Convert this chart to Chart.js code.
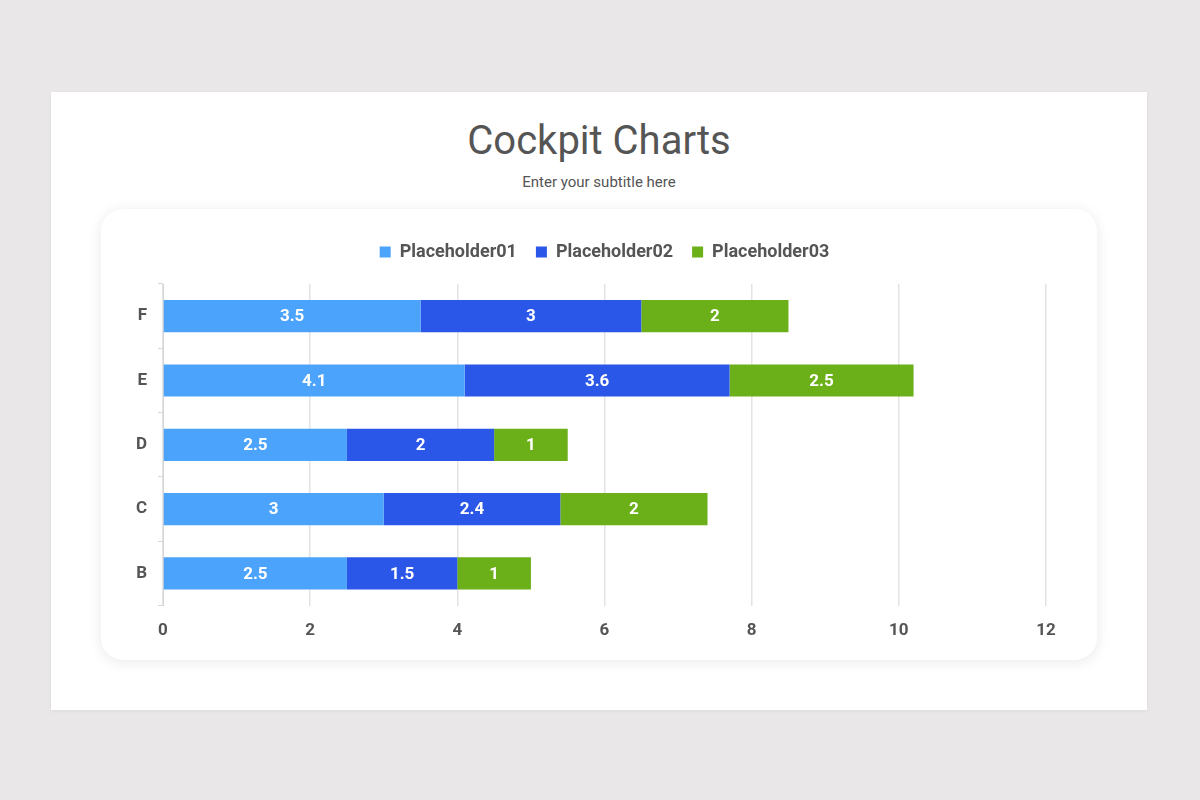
<!DOCTYPE html>
<html>
<head>
<meta charset="utf-8">
<style>
  html, body { margin: 0; padding: 0; }
  body { width: 1200px; height: 800px; background: #e9e7e8; position: relative; font-family: Roboto, sans-serif; overflow: hidden; }
  .slide { position: absolute; left: 51px; top: 92px; width: 1096px; height: 618px; background: #fff; box-shadow: 0 1px 4px rgba(0,0,0,0.06); }
  .slide h1 { position: absolute; left: 0; right: 0; top: 24px; margin: 0; text-align: center; font-weight: 400; font-size: 40px; color: #555; line-height: 50px; }
  .slide .sub { position: absolute; left: 0; right: 0; top: 80px; text-align: center; font-size: 15px; color: #555; line-height: 20px; }
  .card { position: absolute; left: 50px; top: 117px; width: 996px; height: 451px; background: #fff; border-radius: 22px; box-shadow: 0 2px 14px rgba(0,0,0,0.09); }
  canvas { position: absolute; left: 0; top: 0; }
</style>
</head>
<body>
<div class="slide">
  <h1>Cockpit Charts</h1>
  <div class="sub">Enter your subtitle here</div>
  <div class="card">
    <canvas id="cockpitChart" width="996" height="451"></canvas>
  </div>
</div>

<script src="https://cdn.jsdelivr.net/npm/chart.js"></script>
<script>
const categories = ['F', 'E', 'D', 'C', 'B'];
const seriesNames = ['Placeholder01', 'Placeholder02', 'Placeholder03'];
const placeholder01 = [3.5, 4.1, 2.5, 3, 2.5];
const placeholder02 = [3, 3.6, 2, 2.4, 1.5];
const placeholder03 = [2, 2.5, 1, 2, 1];
const xTicks = [0, 2, 4, 6, 8, 10, 12];

const colors = ['#4ca3fb', '#2b57e9', '#6baf19'];

// white value labels in the middle of each segment
const barLabels = {
  id: 'barLabels',
  afterDatasetsDraw(chart) {
    const ctx = chart.ctx;
    ctx.save();
    ctx.font = 'bold 17px Roboto';
    ctx.fillStyle = '#fff';
    ctx.textAlign = 'center';
    ctx.textBaseline = 'middle';
    chart.data.datasets.forEach((ds, i) => {
      chart.getDatasetMeta(i).data.forEach((bar, j) => {
        const p = bar.getCenterPoint();
        ctx.fillText(ds.data[j], p.x, p.y + 1);
      });
    });
    ctx.restore();
  }
};

// extra room under the legend, and centre it over the plot area
const legendGap = {
  id: 'legendGap',
  beforeInit(chart) {
    const fit = chart.legend.fit;
    chart.legend.fit = function () {
      fit.bind(chart.legend)();
      this.height += 13;
    };
  },
  afterLayout(chart) {
    const lg = chart.legend;
    lg.left = chart.chartArea.left;
    lg.right = chart.chartArea.right;
    lg.width = lg.right - lg.left;
  }
};

Chart.defaults.font.family = 'Roboto';
Chart.defaults.color = '#555';

new Chart(document.getElementById('cockpitChart'), {
  type: 'bar',
  data: {
    labels: categories,
    datasets: [placeholder01, placeholder02, placeholder03].map((d, i) => ({
      label: seriesNames[i],
      data: d,
      backgroundColor: colors[i],
      barPercentage: 0.5,
      categoryPercentage: 1
    }))
  },
  options: {
    indexAxis: 'y',
    responsive: false,
    animation: false,
    layout: { padding: { top: 15, right: 51, bottom: 4, left: 0 } },
    plugins: {
      tooltip: { enabled: false },
      legend: {
        position: 'top',
        labels: {
          boxWidth: 11,
          boxHeight: 11,
          padding: 19,
          font: { size: 18, weight: 'bold' },
          color: '#555'
        }
      }
    },
    scales: {
      x: {
        stacked: true,
        min: 0,
        max: 12,
        afterBuildTicks(scale) {
          scale.ticks = xTicks.map(v => ({ value: v }));
        },
        grid: { color: '#e3e3e3', drawTicks: false, lineWidth: 1.5 },
        border: { display: false },
        ticks: { padding: 15, font: { size: 17, weight: 'bold' }, color: '#555' }
      },
      y: {
        stacked: true,
        afterFit(scale) { scale.width = 62; },
        grid: { drawOnChartArea: false, tickLength: 5, color: '#d6d6d6' },
        border: { display: true, color: '#d6d6d6' },
        ticks: { padding: 11, font: { size: 17, weight: 'bold' }, color: '#555' }
      }
    }
  },
  plugins: [barLabels, legendGap]
});
</script>
</body>
</html>
